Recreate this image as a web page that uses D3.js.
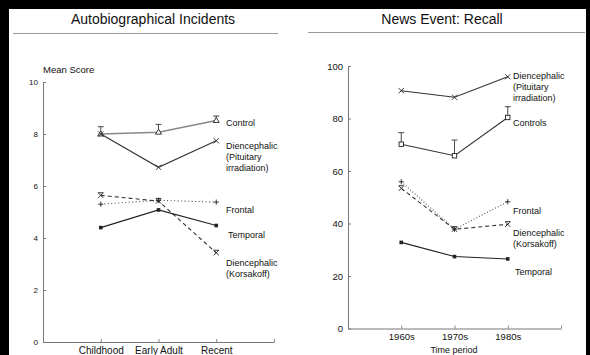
<!DOCTYPE html>
<html><head><meta charset="utf-8">
<script src="https://cdn.jsdelivr.net/npm/d3@7"></script>
<style>body{margin:0;background:#fff}svg{display:block;font-family:"Liberation Sans",Arial,sans-serif}</style>
</head><body>
<svg id="c" width="590" height="355"></svg>
<script>
// ---- data ----
const leftCategories = ["Childhood", "Early Adult", "Recent"];
const rightCategories = ["1960s", "1970s", "1980s"];
const leftTicks = [0, 2, 4, 6, 8, 10];
const rightTicks = [0, 20, 40, 60, 80, 100];

// Autobiographical Incidents (mean score)
const autoControl = [8.0, 8.07, 8.52];
const autoControlErr = [8.28, 8.37, 8.69];
const autoPituitary = [8.0, 6.72, 7.74];
const autoKorsakoff = [5.64, 5.42, 3.43];
const autoFrontal = [5.3, 5.45, 5.38];
const autoTemporal = [4.4, 5.08, 4.48];

// News Event: Recall
const newsPituitary = [90.6, 88.1, 95.9];
const newsControls = [70.2, 65.8, 80.4];
const newsControlsErr = [74.6, 71.8, 84.5];
const newsFrontal = [55.9, 37.8, 48.3];
const newsKorsakoff = [53.4, 37.8, 39.7];
const newsTemporal = [32.8, 27.4, 26.5];

const svg = d3.select("#c");

// frame (black borders from the scan)
svg.append("rect").attr("x",0).attr("y",0).attr("width",590).attr("height",9).attr("fill","#000");
svg.append("rect").attr("x",0).attr("y",0).attr("width",9).attr("height",355).attr("fill","#000");
svg.append("rect").attr("x",586).attr("y",0).attr("width",4).attr("height",355).attr("fill","#000");

// titles
svg.append("text").attr("x",153).attr("y",24).attr("text-anchor","middle").attr("font-size",14).attr("fill","#111").text("Autobiographical Incidents");
svg.append("line").attr("x1",13).attr("x2",278).attr("y1",33.5).attr("y2",33.5).attr("stroke","#999").attr("stroke-width",1.2);
svg.append("text").attr("x",442).attr("y",24).attr("text-anchor","middle").attr("font-size",14).attr("fill","#111").text("News Event: Recall");
svg.append("line").attr("x1",308).attr("x2",585).attr("y1",32.5).attr("y2",32.5).attr("stroke","#999").attr("stroke-width",1.2);

function marker(g, type, x, y, color) {
  const s = 2.6;
  if (type === "tri") {
    g.append("path").attr("d",`M${x},${y-3}L${x+3},${y+2}L${x-3},${y+2}Z`).attr("fill","#fff").attr("stroke",color).attr("stroke-width",0.9);
  } else if (type === "x") {
    g.append("path").attr("d",`M${x-s},${y-s}L${x+s},${y+s}M${x-s},${y+s}L${x+s},${y-s}`).attr("stroke",color).attr("stroke-width",0.9);
  } else if (type === "xbox") {
    g.append("path").attr("d",`M${x-s},${y-s}L${x+s},${y+s}M${x-s},${y+s}L${x+s},${y-s}M${x-s},${y-s}L${x+s},${y-s}`).attr("stroke",color).attr("stroke-width",0.9);
  } else if (type === "plus") {
    g.append("path").attr("d",`M${x-s},${y}L${x+s},${y}M${x},${y-s}L${x},${y+s}`).attr("stroke",color).attr("stroke-width",0.9);
  } else if (type === "dot") {
    g.append("rect").attr("x",x-1.8).attr("y",y-1.8).attr("width",3.6).attr("height",3.6).attr("fill",color);
  } else if (type === "sq") {
    g.append("rect").attr("x",x-2.2).attr("y",y-2.2).attr("width",4.4).attr("height",4.4).attr("fill","#fff").attr("stroke",color).attr("stroke-width",0.9);
  }
}

function panel(cfg) {
  const g = svg.append("g");
  if (cfg.clip) {
    svg.append("clipPath").attr("id",cfg.id).append("rect").attr("x",0).attr("y",0).attr("width",cfg.clip).attr("height",355);
    g.attr("clip-path",`url(#${cfg.id})`);
  }
  const x = d3.scaleLinear().domain([0,4]).range(cfg.xr);
  const y = d3.scaleLinear().domain(cfg.yd).range(cfg.yr);

  const ya = g.append("g").attr("transform",`translate(${cfg.xr[0]},0)`)
    .call(d3.axisLeft(y).tickValues(cfg.ticks).tickSize(-3).tickSizeOuter(0).tickPadding(5));
  ya.select(".domain").attr("stroke","#777");
  ya.selectAll(".tick line").attr("stroke","#777");
  ya.selectAll("text").attr("font-size",cfg.tickFont).attr("fill","#111").attr("font-family","'Liberation Sans',Arial,sans-serif");

  const xa = g.append("g").attr("transform",`translate(0,${cfg.yr[0]})`)
    .call(d3.axisBottom(x).tickValues([1,2,3,4]).tickSize(-3).tickSizeOuter(0).tickPadding(cfg.xPad)
      .tickFormat(d => d <= 3 ? cfg.cats[d-1] : ""));
  xa.select(".domain").attr("stroke","#777");
  xa.selectAll(".tick line").attr("stroke","#888");
  xa.selectAll("text").attr("font-size",cfg.xFont).attr("fill","#111").attr("font-family","'Liberation Sans',Arial,sans-serif");

  const line = d3.line().x((d,i)=>x(i+1)).y(d=>y(d));
  cfg.series.forEach(s => {
    if (s.err) {
      s.err.forEach((e,i) => {
        g.append("path").attr("d",`M${x(i+1)},${y(s.values[i])}V${y(e)}M${x(i+1)-3},${y(e)}H${x(i+1)+3}`)
          .attr("stroke","#333").attr("stroke-width",0.9).attr("fill","none");
      });
    }
    g.append("path").datum(s.values).attr("d",line).attr("fill","none")
      .attr("stroke",s.color).attr("stroke-width",s.width||1.1)
      .attr("stroke-dasharray",s.dash||null);
    s.values.forEach((v,i)=>marker(g,s.marker,x(i+1),y(v),"#222"));
    s.label.forEach((t,k)=>{
      g.append("text").attr("x",cfg.labelX + (s.dx||0)).attr("y",s.ly + k*11).attr("font-size",9).attr("fill","#111").text(t);
    });
  });
  return g;
}

panel({
  id:"clipL", clip:279,
  xr:[43,274], yd:[0,10], yr:[342,82], ticks:leftTicks, cats:leftCategories,
  tickFont:8, xFont:10, xPad:5, labelX:226,
  series:[
    {values:autoControl, err:autoControlErr, marker:"tri", color:"#888", width:1.6, label:["Control"], ly:126},
    {values:autoPituitary, marker:"x", color:"#333", label:["Diencephalic","(Pituitary","irradiation)"], ly:149},
    {values:autoKorsakoff, marker:"xbox", color:"#333", dash:"4,3", label:["Diencephalic","(Korsakoff)"], ly:266},
    {values:autoFrontal, marker:"plus", color:"#444", dash:"1,2.5", label:["Frontal"], ly:213},
    {values:autoTemporal, marker:"dot", color:"#222", label:["Temporal"], ly:238, dx:2}
  ]
});
svg.append("text").attr("x",43).attr("y",73).attr("font-size",9.5).attr("fill","#111").text("Mean Score");

panel({
  id:"clipR", clip:0,
  xr:[348,561], yd:[0,100], yr:[328.5,66], ticks:rightTicks, cats:rightCategories,
  tickFont:9.5, xFont:9.5, xPad:5, labelX:513,
  series:[
    {values:newsPituitary, marker:"x", color:"#333", label:["Diencephalic","(Pituitary","irradiation)"], ly:79},
    {values:newsControls, err:newsControlsErr, marker:"sq", color:"#333", label:["Controls"], ly:126},
    {values:newsFrontal, marker:"plus", color:"#555", dash:"1,2", label:["Frontal"], ly:214},
    {values:newsKorsakoff, marker:"xbox", color:"#333", dash:"4,3", label:["Diencephalic","(Korsakoff)"], ly:236},
    {values:newsTemporal, marker:"dot", color:"#222", label:["Temporal"], ly:275, dx:2}
  ]
});
svg.append("text").attr("x",454).attr("y",352.5).attr("text-anchor","middle").attr("font-size",9).attr("fill","#111").text("Time period");
</script>
</body></html>
